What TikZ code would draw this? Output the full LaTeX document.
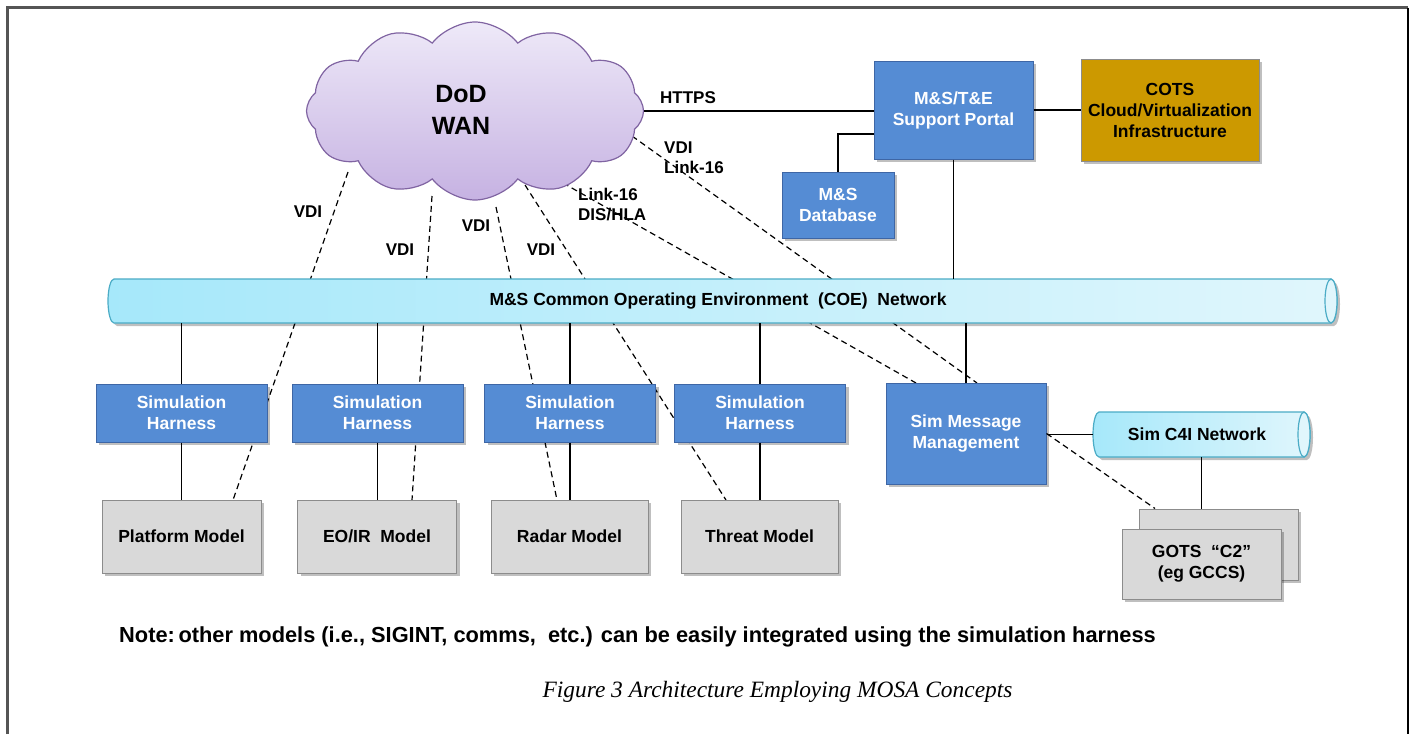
\documentclass[tikz,border=0pt]{standalone}
\usepackage{fontspec}
\setmainfont{Liberation Sans}
\newfontfamily\capfont{Liberation Serif}
\usetikzlibrary{shapes.symbols,shadows}
\definecolor{bluefill}{RGB}{85,140,212}
\definecolor{bluedraw}{RGB}{62,102,165}
\definecolor{greyfill}{RGB}{217,217,217}
\definecolor{greydraw}{RGB}{140,140,140}
\definecolor{cotsfill}{RGB}{204,153,0}
\definecolor{cylL}{RGB}{166,232,250}
\definecolor{cylR}{RGB}{224,246,252}
\definecolor{cylD}{RGB}{75,172,198}
\definecolor{cloudT}{RGB}{238,233,248}
\definecolor{cloudB}{RGB}{198,178,226}
\definecolor{cloudD}{RGB}{128,100,162}
\definecolor{framegray}{RGB}{85,85,85}
\tikzset{
 shd/.style={drop shadow={shadow xshift=3pt,shadow yshift=-3pt,opacity=0.25,fill=black}},
 bluebox/.style={draw=bluedraw,fill=bluefill,line width=1pt,text=white,font=\bfseries\fontsize{17.5}{21}\selectfont,align=center,inner sep=0pt,shd},
 greybox/.style={draw=greydraw,fill=greyfill,line width=1pt,text=black,font=\bfseries\fontsize{17.5}{21}\selectfont,align=center,inner sep=0pt,shd},
 cotsbox/.style={draw=greydraw,fill=cotsfill,line width=1pt,text=black,font=\bfseries\fontsize{17.5}{21}\selectfont,align=center,inner sep=0pt,shd},
 lbl/.style={font=\bfseries\fontsize{17}{20}\selectfont,inner sep=0pt,align=left},
 cyltext/.style={font=\bfseries\fontsize{17.5}{20}\selectfont,inner sep=0pt},
 conn/.style={line width=1.2pt,black},
 dashln/.style={line width=1.2pt,black,dash pattern=on 6pt off 4pt},
 cylbody/.style={left color=cylL,right color=cylR,draw=cylD,line width=1.2pt,shd},
 cylend/.style={draw=cylD,line width=1.2pt,fill=cylR},
}
\begin{document}
\begin{tikzpicture}[x=1pt,y=-1pt]
\useasboundingbox (0,0) rectangle (1415,734);
\fill[white] (0,0) rectangle (1415,734);
% frame
\draw[framegray,line width=2.2pt] (7.5,734) -- (7.5,7.5) -- (1408,7.5);
\draw[black,line width=1.5pt] (1408,7.5) -- (1408,734);

% dashed connectors
\coordinate (v1) at (348,172);
\coordinate (v2) at (432,196);
\coordinate (v3) at (496,207);
\coordinate (v4) at (525,185);
\coordinate (l5) at (563,183);
\coordinate (l6) at (632,136);
\draw[dashln] (v1) -- (233,500) coordinate (v1e);
\draw[dashln] (v2) -- (412,500) coordinate (v2e);
\draw[dashln] (v3) -- (557,500) coordinate (v3e);
\draw[dashln] (v4) -- (726,500) coordinate (v4e);
\draw[dashln] (l5) -- (916,383) coordinate (l5e);
\draw[dashln] (l6) -- (977,383) coordinate (l6e);

% cloud
\node[cloud,cloud puffs=12,cloud puff arc=105,aspect=1.9,minimum width=337pt,minimum height=178pt,inner sep=0pt,draw=cloudD,line width=1.2pt,top color=cloudT,bottom color=cloudB] (wan) at (475,111) {};
\node[font=\bfseries\fontsize{25}{32}\selectfont,align=center,inner sep=0pt] (wantxt) at (461,110) {DoD\\WAN};

% labels
\node[lbl] (https) at (688,98) {HTTPS};
\node[lbl,anchor=west] (lbl6) at (664,158) {VDI\\Link-16};
\node[lbl,anchor=west] (lbl5) at (578,205) {Link-16\\DIS/HLA};
\node[lbl] (vdi1) at (308,212) {VDI};
\node[lbl] (vdi2) at (400,250) {VDI};
\node[lbl] (vdi3) at (476,226) {VDI};
\node[lbl] (vdi4) at (541,250) {VDI};

% top right boxes
\node[bluebox,minimum width=159pt,minimum height=98pt] (portal) at (953.5,110) {M\&S/T\&E\\Support Portal};
\node[cotsbox,minimum width=178pt,minimum height=102pt] (cots) at (1170,110) {COTS\\Cloud/Virtualization\\Infrastructure};
\node[bluebox,minimum width=112pt,minimum height=66pt] (db) at (838,205) {M\&S\\Database};

\draw[conn] (wan.east) -- (wan.east -| portal.west);
\draw[conn] (portal.east) -- (cots.west);
\draw[conn] (db.north) |- ([yshift=-24pt]portal.west);

% COE cylinder
\shade[cylbody] (114,279) -- (1331,279) .. controls (1334.31,279) and (1337,288.85) .. (1337,301) .. controls (1337,313.15) and (1334.31,323) .. (1331,323) -- (114,323) .. controls (110.69,323) and (108,313.15) .. (108,301) .. controls (108,288.85) and (110.69,279) .. (114,279) -- cycle;
\draw[cylend] (1331,301) ellipse [x radius=6,y radius=22];
\node[cyltext,minimum width=1229pt,minimum height=44pt] (coe) at (722.5,301) {};
\node[cyltext] (coetxt) at (718,301) {M\&S Common Operating Environment \ (COE) \ Network};

\draw[conn] (portal.south) -- (portal.south |- coe.north);

% harness boxes
\node[bluebox,minimum width=171pt,minimum height=58pt] (h1) at (181.5,413) {Simulation\\Harness};
\node[bluebox,minimum width=171pt,minimum height=58pt] (h2) at (377.5,413) {Simulation\\Harness};
\node[bluebox,minimum width=171pt,minimum height=58pt] (h3) at (570,413) {Simulation\\Harness};
\node[bluebox,minimum width=171pt,minimum height=58pt] (h4) at (760,413) {Simulation\\Harness};

\node[greybox,minimum width=159pt,minimum height=73pt] (pm) at (181.5,536.5) {Platform Model};
\node[greybox,minimum width=159pt,minimum height=73pt] (eo) at (377,536.5) {EO/IR \ Model};
\node[greybox,minimum width=157pt,minimum height=73pt] (rd) at (569.5,536.5) {Radar Model};
\node[greybox,minimum width=157pt,minimum height=73pt] (th) at (759.5,536.5) {Threat Model};

\foreach \h/\m in {h1/pm,h2/eo,h3/rd,h4/th}{
  \draw[conn] (\h.north) -- (\h.north |- coe.south);
  \draw[conn] (\h.south) -- (\h.south |- \m.north);
}

% sim message management
\node[bluebox,minimum width=160pt,minimum height=101pt] (sm) at (966,433.5) {Sim Message\\Management};
\draw[conn] (sm.north) -- (sm.north |- coe.south);

% Sim C4I cylinder
\shade[cylbody] (1099,412) -- (1304,412) .. controls (1307.31,412) and (1310,422.07) .. (1310,434.5) .. controls (1310,446.93) and (1307.31,457) .. (1304,457) -- (1099,457) .. controls (1095.69,457) and (1093,446.93) .. (1093,434.5) .. controls (1093,422.07) and (1095.69,412) .. (1099,412) -- cycle;
\draw[cylend] (1304,434.5) ellipse [x radius=6,y radius=22.5];
\node[cyltext,minimum width=217pt,minimum height=45pt] (c4i) at (1201.5,434.5) {};
\node[cyltext] (c4itxt) at (1197,434.5) {Sim C4I Network};
\draw[conn] (c4i.west) -- (c4i.west -| sm.east);

% GOTS
\node[greybox,minimum width=159pt,minimum height=71pt] (gotsb) at (1218.5,544.5) {};
\node[greybox,minimum width=159pt,minimum height=70pt] (gots) at (1201.5,564) {GOTS \ “C2”\\(eg GCCS)};
\draw[conn] (c4i.south) -- (c4i.south |- gotsb.north);
\draw[dashln] (sm.east) -- ([xshift=-63.5pt]gotsb.north);

% note and caption
\node[font=\bfseries\fontsize{21.8}{24}\selectfont,inner sep=0pt] (note) at (637.5,637) {Note:\,other models (i.e., SIGINT, comms, \ etc.) can be easily integrated using the simulation harness};
\node[font=\capfont\itshape\fontsize{23.4}{28}\selectfont,inner sep=0pt] (cap) at (777.5,692) {Figure 3 Architecture Employing MOSA Concepts};
\end{tikzpicture}
\end{document}
